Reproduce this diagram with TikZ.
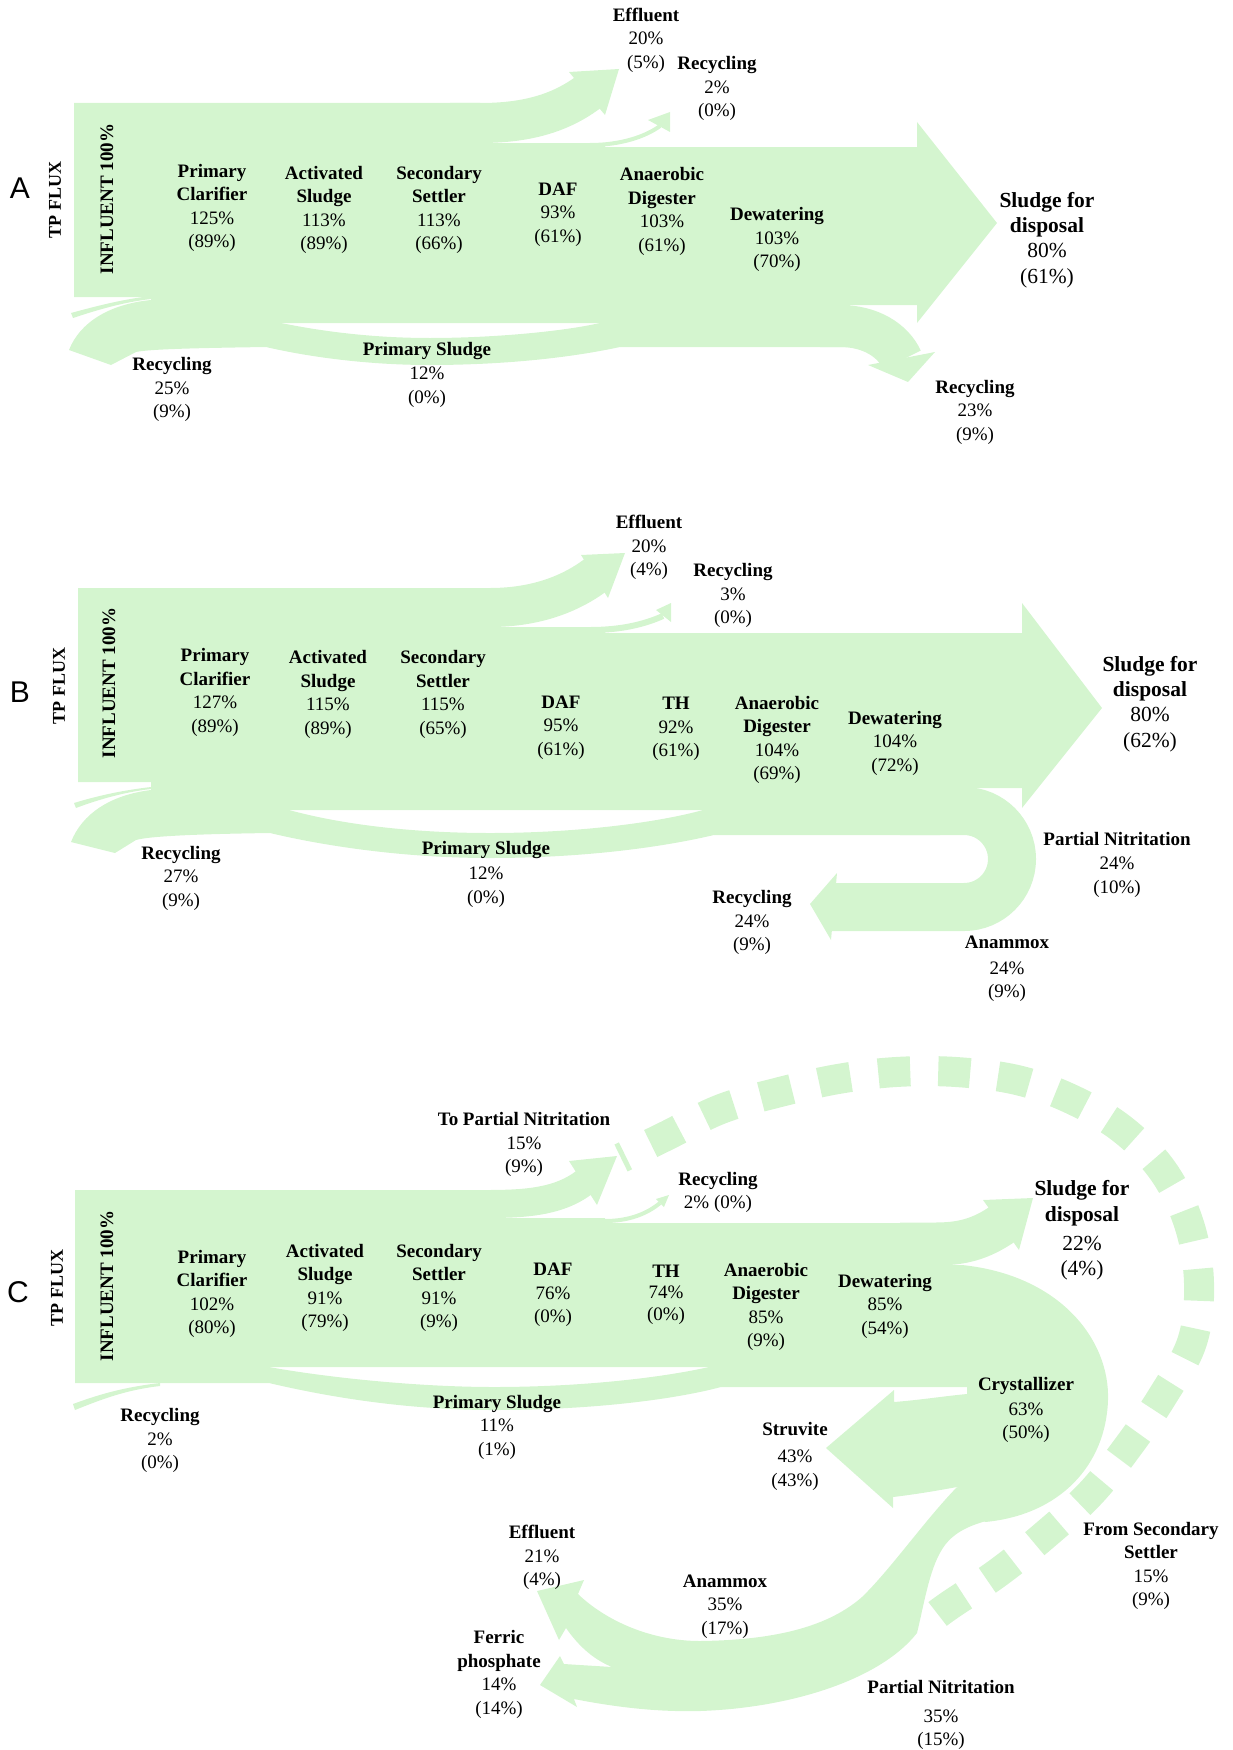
\documentclass[tikz,border=0pt]{standalone}
\usepackage{fontspec}
\setmainfont{Liberation Serif}
\newfontfamily\lettersans{Liberation Sans}
\definecolor{band}{RGB}{212,245,207}
\begin{document}
\begin{tikzpicture}[x=1pt,y=-1pt,
  lbl/.style={align=center, inner sep=0pt, font=\fontsize{19}{23.5}\selectfont},
  big/.style={align=center, inner sep=0pt, font=\fontsize{21.5}{25.3}\selectfont},
  vlbl/.style={rotate=90, inner sep=0pt, font=\bfseries\fontsize{19}{23}\selectfont},
  vlbls/.style={rotate=90, inner sep=0pt, font=\bfseries\fontsize{18}{22}\selectfont},
  letter/.style={inner sep=0pt, font=\lettersans\fontsize{30}{36}\selectfont}]
\useasboundingbox (0,0) rectangle (1232,1750);

%%%%%%%%%%%%%%%% PANEL A %%%%%%%%%%%%%%%%
\fill[band] (74,103) -- (480,103) -- (480,143) -- (605,143) -- (605,147) -- (917,147) -- (917,122) -- (997,223) -- (917,323) -- (917,305) -- (850,305) -- (850,347) -- (620,347) -- (620,323) -- (151,323) -- (151,297) -- (74,297) -- cycle;
\fill[band] (69,350) .. controls (80,322) and (110,304) .. (151,300) -- (281,323) .. controls (330,333) and (380,338) .. (430,338) .. controls (490,338) and (560,332) .. (600,323) -- (620,323) -- (620,347) .. controls (560,360) and (490,365) .. (430,365) .. controls (360,365) and (300,355) .. (266,347) .. controls (200,348) and (150,349) .. (136,352) -- (111,365) -- cycle;
\fill[band] (71,313) .. controls (100,305) and (125,299) .. (151,296) -- (151,299) .. controls (125,302) and (100,309) .. (73,318) -- cycle;
% effluent
\draw[band, line width=40pt] (450,123) -- (480,123) .. controls (525,123) and (560,114) .. (590,91);
\fill[band] (569,72) -- (619,69) -- (605,115) -- cycle;
% recycling 2%
\draw[band, line width=4pt] (590,145) .. controls (620,145) and (645,137) .. (660,126);
\fill[band] (648,120) -- (670,112) -- (670,132) -- cycle;
% recycling 23%
\draw[band, line width=42pt] (820,326) -- (840,326) .. controls (870,326) and (893,340) .. (902,360);
\fill[band] (935,352) -- (908,382) -- (868,365) -- cycle;

\node[letter] (lA) at (20,188) {A};
\node[vlbls] (tpA) at (55,200) {TP FLUX};
\node[vlbl] (inA) at (107,199) {INFLUENT 100\%};
\node[lbl] (aEff) at (646,40) {\textbf{Effluent}\\20\%\\(5\%)};
\node[lbl] (aRec1) at (717,88.5) {\textbf{Recycling}\\2\%\\(0\%)};
\node[lbl] (aPC) at (212,208) {\textbf{Primary}\\\textbf{Clarifier}\\125\%\\(89\%)};
\node[lbl] (aAS) at (324,210) {\textbf{Activated}\\\textbf{Sludge}\\113\%\\(89\%)};
\node[lbl] (aSS) at (439,210) {\textbf{Secondary}\\\textbf{Settler}\\113\%\\(66\%)};
\node[lbl] (aDAF) at (558,214.5) {\textbf{DAF}\\93\%\\(61\%)};
\node[lbl] (aAD) at (662,211.5) {\textbf{Anaerobic}\\\textbf{Digester}\\103\%\\(61\%)};
\node[lbl] (aDW) at (777,239.5) {\textbf{Dewatering}\\103\%\\(70\%)};
\node[big] (aSD) at (1047,240) {\textbf{Sludge for}\\\textbf{disposal}\\80\%\\(61\%)};
\node[lbl] (aRec2) at (975,412) {\textbf{Recycling}\\23\%\\(9\%)};
\node[lbl] (aRec3) at (172,389.5) {\textbf{Recycling}\\25\%\\(9\%)};
\node[lbl] (aPS) at (427,374.5) {\textbf{Primary Sludge}\\[1pt]12\%\\(0\%)};

%%%%%%%%%%%%%%%% PANEL B %%%%%%%%%%%%%%%%
\fill[band] (78,588) -- (470,588) -- (470,627) -- (605,627) -- (605,633) -- (1022,633) -- (1022,603) -- (1102,708) -- (1022,808) -- (1022,788) -- (940,788) -- (940,835) -- (714,835) -- (714,810) -- (151,810) -- (151,782) -- (78,782) -- cycle;
\fill[band] (71,842) .. controls (82,814) and (110,795) .. (151,790) -- (289,810) .. controls (340,824) and (410,833) .. (490,833) .. controls (580,833) and (660,822) .. (703,810) -- (714,810) -- (714,835) .. controls (650,850) and (570,858) .. (490,858) .. controls (400,858) and (320,845) .. (270,833) .. controls (200,834) and (150,836) .. (136,840) -- (115,853) -- cycle;
\fill[band] (74,803) .. controls (100,795) and (125,790) .. (151,787) -- (151,789) .. controls (125,792) and (100,799) .. (76,808) -- cycle;
% effluent
\draw[band, line width=39pt] (460,607.5) -- (490,607.5) .. controls (530,607.5) and (567,597) .. (597,574);
\fill[band] (581,555) -- (625,553) -- (608,598) -- cycle;
% recycling 3%
\draw[band, line width=6pt] (590,630) .. controls (622,630) and (645,624) .. (663,616);
\fill[band] (656,610) -- (671,603) -- (671,622) -- cycle;
% partial nitritation / anammox loop
\draw[band, line width=48pt] (900,811) -- (964,811) .. controls (990.5,811) and (1012,832.5) .. (1012,859) .. controls (1012,885.5) and (990.5,907) .. (964,907) -- (832,907);
\fill[band] (837,873) -- (810,904) -- (831,940) -- cycle;

\node[letter] (lB) at (20,692) {B};
\node[vlbls] (tpB) at (59,686) {TP FLUX};
\node[vlbl] (inB) at (109,683) {INFLUENT 100\%};
\node[lbl] (bEff) at (649,547.5) {\textbf{Effluent}\\20\%\\(4\%)};
\node[lbl] (bRec1) at (733,595.5) {\textbf{Recycling}\\3\%\\(0\%)};
\node[lbl] (bPC) at (215,692.5) {\textbf{Primary}\\\textbf{Clarifier}\\127\%\\(89\%)};
\node[lbl] (bAS) at (328,694.5) {\textbf{Activated}\\\textbf{Sludge}\\115\%\\(89\%)};
\node[lbl] (bSS) at (443,694.5) {\textbf{Secondary}\\\textbf{Settler}\\115\%\\(65\%)};
\node[lbl] (bDAF) at (561,727.5) {\textbf{DAF}\\95\%\\(61\%)};
\node[lbl] (bTH) at (676,729) {\textbf{TH}\\92\%\\(61\%)};
\node[lbl] (bAD) at (777,740) {\textbf{Anaerobic}\\\textbf{Digester}\\104\%\\(69\%)};
\node[lbl] (bDW) at (895,743) {\textbf{Dewatering}\\104\%\\(72\%)};
\node[big] (bSD) at (1150,704) {\textbf{Sludge for}\\\textbf{disposal}\\80\%\\(62\%)};
\node[lbl] (bPN) at (1117,864.5) {\textbf{Partial Nitritation}\\[1pt]24\%\\(10\%)};
\node[lbl] (bRec2) at (752,922.5) {\textbf{Recycling}\\24\%\\(9\%)};
\node[lbl] (bAn) at (1007,969) {\textbf{Anammox}\\[2pt]24\%\\(9\%)};
\node[lbl] (bRec3) at (181,878) {\textbf{Recycling}\\27\%\\(9\%)};
\node[lbl] (bPS) at (486,874) {\textbf{Primary Sludge}\\[2pt]12\%\\(0\%)};

%%%%%%%%%%%%%%%% PANEL C %%%%%%%%%%%%%%%%
% dashed return flow
\draw[band, line width=30pt, dash pattern=on 32pt off 28pt, dash phase=27pt] plot[smooth, tension=0.6] coordinates {(621,1158) (666,1136) (721,1109) (780,1092) (838,1079) (896,1072) (956,1072) (1017,1080) (1071,1099) (1122,1129) (1163,1171) (1189,1224) (1199,1283) (1192,1342) (1162,1397) (1127,1448) (1090,1494) (1045,1535) (999,1572) (950,1605) (935,1616)};
% main band with crystallizer loop and struvite arrow
\fill[band] (75,1190) -- (470,1190) -- (470,1218) -- (605,1218) -- (605,1223) -- (940,1223) -- (940,1265) -- (962,1265) .. controls (1060,1275) and (1110,1340) .. (1108,1400) .. controls (1106,1465) and (1060,1515) .. (985,1522) -- (957,1487) .. controls (930,1492) and (910,1495) .. (893,1497) -- (893,1508) -- (826,1448) -- (894,1390) -- (894,1402) .. controls (920,1400) and (945,1396) .. (967,1394) -- (967,1387) -- (721,1387) -- (721,1367) -- (269,1367) -- (269,1383) -- (75,1383) -- cycle;
% primary sludge
\fill[band] (269,1367) .. controls (330,1378) and (420,1387) .. (494,1387) .. controls (580,1387) and (660,1378) .. (709,1367) -- (721,1367) -- (721,1387) .. controls (680,1398) and (600,1410) .. (494,1410) .. controls (400,1410) and (320,1395) .. (269,1383) -- cycle;
% recycling 2% sliver
\fill[band] (73,1404) .. controls (100,1394) and (125,1387) .. (160,1383) -- (160,1386) .. controls (125,1390) and (100,1400) .. (75,1410) -- cycle;
% to partial nitritation
\draw[band, line width=28pt] (450,1204) -- (486,1204) .. controls (525,1204) and (560,1202) .. (586,1181);
\fill[band] (569,1161) -- (617,1156) -- (597,1205) -- cycle;
% recycling 2%
\draw[band, line width=4pt] (605,1221) .. controls (630,1221) and (648,1213) .. (660,1203);
\fill[band] (656,1199) -- (669,1195) -- (664,1207) -- cycle;
% sludge for disposal
\draw[band, line width=43pt] (900,1244) -- (935,1244) .. controls (960,1244) and (980,1240) .. (1004,1223);
\fill[band] (983,1200) -- (1033,1198) -- (1019,1250) -- cycle;
% anammox / partial nitritation band with effluent and ferric phosphate heads
\fill[band] (957,1487) .. controls (925,1520) and (890,1570) .. (862,1597) .. controls (830,1625) and (780,1640) .. (700,1641) .. controls (650,1641) and (605,1620) .. (578,1594) -- (584,1580) -- (537,1591) -- (559,1640) -- (566,1628) .. controls (580,1648) and (595,1660) .. (612,1667) -- (564,1664) -- (560,1656) -- (540,1685) -- (577,1707) -- (574,1699) .. controls (620,1708) and (660,1712) .. (700,1711) .. controls (790,1708) and (880,1680) .. (917,1633) .. controls (925,1600) and (930,1565) .. (945,1545) .. controls (955,1532) and (970,1525) .. (990,1520) -- cycle;

\node[letter] (lC) at (18,1292) {C};
\node[vlbls] (tpC) at (57,1288) {TP FLUX};
\node[vlbl] (inC) at (107,1286) {INFLUENT 100\%};
\node[lbl] (cTPN) at (524,1144.5) {\textbf{To Partial Nitritation}\\15\%\\(9\%)};
\node[lbl] (cRec1) at (718,1192.5) {\textbf{Recycling}\\2\% (0\%)};
\node[lbl] (cPC) at (212,1294) {\textbf{Primary}\\\textbf{Clarifier}\\102\%\\(80\%)};
\node[lbl] (cAS) at (325,1288) {\textbf{Activated}\\\textbf{Sludge}\\91\%\\(79\%)};
\node[lbl] (cSS) at (439,1288) {\textbf{Secondary}\\\textbf{Settler}\\91\%\\(9\%)};
\node[lbl] (cDAF) at (553,1295) {\textbf{DAF}\\76\%\\(0\%)};
\node[lbl] (cTH) at (666,1294.5) {\textbf{TH}\\[-2pt]74\%\\[-2pt](0\%)};
\node[lbl] (cAD) at (766,1307) {\textbf{Anaerobic}\\\textbf{Digester}\\85\%\\(9\%)};
\node[lbl] (cDW) at (885,1306) {\textbf{Dewatering}\\85\%\\(54\%)};
\node[big] (cSD) at (1082,1230.5) {\textbf{Sludge for}\\\textbf{disposal}\\[4pt]22\%\\(4\%)};
\node[lbl] (cCr) at (1026,1410) {\textbf{Crystallizer}\\[1pt]63\%\\(50\%)};
\node[lbl] (cSt) at (795,1456) {\textbf{Struvite}\\[4pt]43\%\\(43\%)};
\node[lbl] (cRec2) at (160,1440.5) {\textbf{Recycling}\\2\%\\(0\%)};
\node[lbl] (cPS) at (497,1427) {\textbf{Primary Sludge}\\11\%\\(1\%)};
\node[lbl] (cEff) at (542,1557.5) {\textbf{Effluent}\\21\%\\(4\%)};
\node[lbl] (cAn) at (725,1606.5) {\textbf{Anammox}\\35\%\\(17\%)};
\node[lbl] (cFP) at (499,1674.5) {\textbf{Ferric}\\\textbf{phosphate}\\14\%\\(14\%)};
\node[lbl] (cPN) at (941,1715) {\textbf{Partial Nitritation}\\[5pt]35\%\\(15\%)};
\node[lbl] (cFSS) at (1151,1566) {\textbf{From Secondary}\\\textbf{Settler}\\15\%\\(9\%)};
\end{tikzpicture}
\end{document}
